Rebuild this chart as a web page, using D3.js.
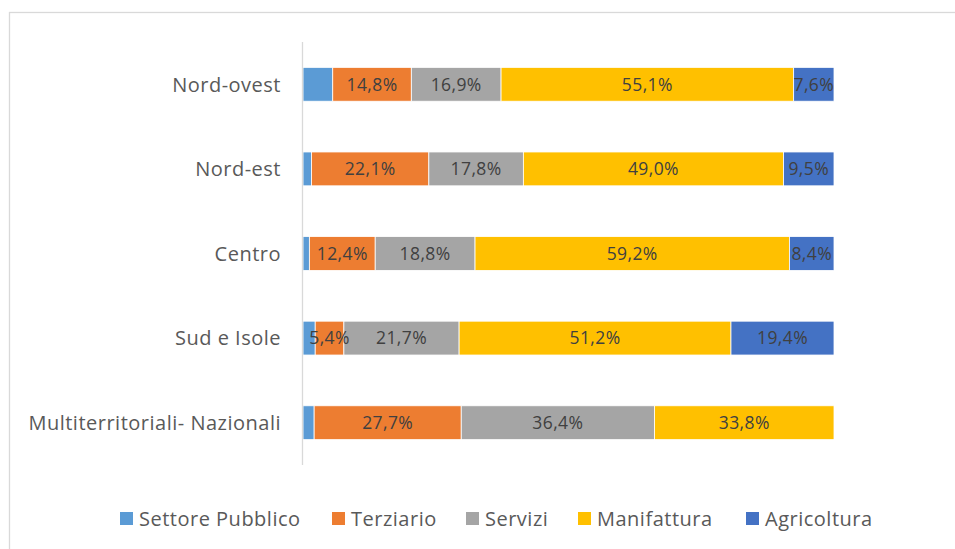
<!DOCTYPE html>
<html>
<head>
<meta charset="utf-8">
<script src="https://cdn.jsdelivr.net/npm/d3@7"></script>
<style>
  body { margin: 0; background: #fff; }
  svg { display: block; }
</style>
</head>
<body>
<div id="chart"></div>
<script>
// categories (top to bottom) and series values in %
const categories = ["Nord-ovest", "Nord-est", "Centro", "Sud e Isole", "Multiterritoriali- Nazionali"];
const seriesNames = ["Settore Pubblico", "Terziario", "Servizi", "Manifattura", "Agricoltura"];
const settorePubblico = [5.6, 1.6, 1.2, 2.3, 2.1];
const terziario = [14.8, 22.1, 12.4, 5.4, 27.7];
const servizi = [16.9, 17.8, 18.8, 21.7, 36.4];
const manifattura = [55.1, 49.0, 59.2, 51.2, 33.8];
const agricoltura = [7.6, 9.5, 8.4, 19.4, 0];
const colors = ["#5b9bd5", "#ed7d31", "#a5a5a5", "#ffc000", "#4472c4"];

const width = 955, height = 549;
const margin = { top: 42, right: 121, bottom: 84, left: 303 };
const font = "'Open Sans', sans-serif";

const svg = d3.select("#chart").append("svg")
  .attr("width", width)
  .attr("height", height);

// chart area border (only top and left visible)
svg.append("rect")
  .attr("x", 9.5).attr("y", 12.5)
  .attr("width", 960).attr("height", 560)
  .attr("fill", "none")
  .attr("stroke", "#d9d9d9")
  .attr("stroke-width", 1.3);

// build table for stacking
const rows = categories.map((c, i) => ({
  cat: c,
  "Settore Pubblico": settorePubblico[i],
  "Terziario": terziario[i],
  "Servizi": servizi[i],
  "Manifattura": manifattura[i],
  "Agricoltura": agricoltura[i]
}));

const stacked = d3.stack().keys(seriesNames)(rows);

const x = d3.scaleLinear()
  .domain([0, 100])
  .range([margin.left, width - margin.right]);

const y = d3.scaleBand()
  .domain(categories)
  .range([margin.top, height - margin.bottom])
  .paddingInner(0.6)
  .paddingOuter(0.3);

const color = d3.scaleOrdinal().domain(seriesNames).range(colors);

const g = svg.append("g");

// bars
const layers = g.selectAll("g.layer")
  .data(stacked)
  .enter().append("g")
    .attr("class", "layer")
    .attr("fill", d => color(d.key));

layers.selectAll("rect")
  .data(d => d.filter(s => s[1] - s[0] > 0))
  .enter().append("rect")
    .attr("x", d => x(d[0]))
    .attr("y", d => y(d.data.cat))
    .attr("width", d => x(d[1]) - x(d[0]))
    .attr("height", y.bandwidth())
    .attr("stroke", "#fff")
    .attr("stroke-width", 0.8);

// data labels (not shown for Settore Pubblico)
stacked.forEach(layer => {
  if (layer.key === "Settore Pubblico") return;
  g.selectAll(null)
    .data(layer.filter(s => s[1] - s[0] > 0))
    .enter().append("text")
      .attr("x", d => (x(d[0]) + x(d[1])) / 2)
      .attr("y", d => y(d.data.cat) + y.bandwidth() / 2)
      .attr("dy", "0.36em")
      .attr("text-anchor", "middle")
      .style("font-family", font)
      .style("font-size", "17.5px")
      .style("letter-spacing", "0.4px")
      .style("fill", "#404040")
      .text(d => d3.format(".1f")(d[1] - d[0]).replace(".", ",") + "%");
});

// vertical axis line
svg.append("line")
  .attr("x1", margin.left - 0.5).attr("x2", margin.left - 0.5)
  .attr("y1", margin.top).attr("y2", height - margin.bottom)
  .attr("stroke", "#d9d9d9")
  .attr("stroke-width", 1.3);

// category labels
svg.append("g").selectAll("text")
  .data(categories)
  .enter().append("text")
    .attr("x", margin.left - 22)
    .attr("y", d => y(d) + y.bandwidth() / 2)
    .attr("dy", "0.36em")
    .attr("text-anchor", "end")
    .style("font-family", font)
    .style("font-size", "20px")
    .style("letter-spacing", "0.5px")
    .style("fill", "#595959")
    .text(d => d);

// legend
const legendX = [120, 332, 466, 578, 746];
const legend = svg.append("g").selectAll("g")
  .data(seriesNames)
  .enter().append("g")
    .attr("transform", (d, i) => `translate(${legendX[i]},519)`);

legend.append("rect")
  .attr("x", 0).attr("y", -7)
  .attr("width", 13).attr("height", 13)
  .attr("fill", d => color(d));

legend.append("text")
  .attr("x", 19)
  .attr("y", 0)
  .attr("dy", "0.36em")
  .style("font-family", font)
  .style("font-size", "20px")
  .style("letter-spacing", "0.5px")
  .style("fill", "#595959")
  .text(d => d);
</script>
</body>
</html>
